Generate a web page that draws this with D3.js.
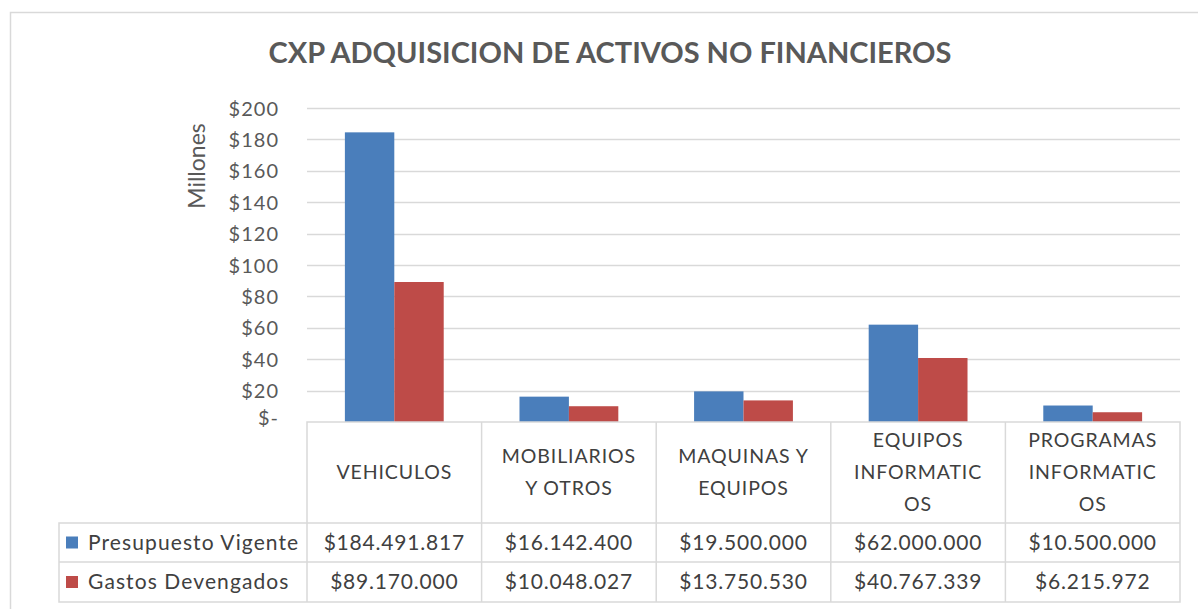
<!DOCTYPE html>
<html>
<head>
<meta charset="utf-8">
<script src="https://cdn.jsdelivr.net/npm/d3@7"></script>
<style>
  html, body { margin: 0; padding: 0; background: #fff; }
  svg { display: block; }
</style>
</head>
<body>
<svg id="chart" width="1198" height="609"></svg>
<script>
// ---- DATA ----
const title = "CXP ADQUISICION DE ACTIVOS NO FINANCIEROS";
const yAxisTitle = "Millones";
const categories = ["VEHICULOS", "MOBILIARIOS Y OTROS", "MAQUINAS Y EQUIPOS", "EQUIPOS INFORMATICOS", "PROGRAMAS INFORMATICOS"];
const categoryLines = [["VEHICULOS"], ["MOBILIARIOS", "Y OTROS"], ["MAQUINAS Y", "EQUIPOS"], ["EQUIPOS", "INFORMATIC", "OS"], ["PROGRAMAS", "INFORMATIC", "OS"]];
const seriesNames = ["Presupuesto Vigente", "Gastos Devengados"];
const presupuestoVigente = [184491817, 16142400, 19500000, 62000000, 10500000];
const gastosDevengados = [89170000, 10048027, 13750530, 40767339, 6215972];
const yTicks = [0, 20, 40, 60, 80, 100, 120, 140, 160, 180, 200];
const seriesColors = ["#4a7ebb", "#be4b48"];

// ---- LAYOUT ----
const svg = d3.select("#chart");
const plotLeft = 307, plotRight = 1180, plotTop = 108, plotBottom = 422;
const headerBottom = 523, row1Bottom = 562, row2Bottom = 602, legendLeft = 59;
const textColor = "#595959";
const gridColor = "#d9d9d9";
const font = "Lato, 'Open Sans', sans-serif";

const series = [presupuestoVigente, gastosDevengados];
const locale = d3.formatLocale({decimal: ",", thousands: ".", grouping: [3], currency: ["$", ""]});
const fmtMoney = locale.format("$,.0f");

// outer chart border
svg.append("rect").attr("x", 10.5).attr("y", 12.5).attr("width", 1200).attr("height", 620)
  .attr("fill", "#fff").attr("stroke", "#d9d9d9").attr("stroke-width", 1.5);

// title
svg.append("text").attr("x", 610).attr("y", 63).attr("text-anchor", "middle")
  .attr("font-family", font).attr("font-weight", "bold").attr("font-size", 29)
  .attr("fill", textColor).text(title);

// scales
const x = d3.scaleBand().domain(categories).range([plotLeft, plotRight]).padding(0);
const xInner = d3.scaleBand().domain(seriesNames)
  .range([x.bandwidth() * 0.217, x.bandwidth() * 0.783]).padding(0);
const y = d3.scaleLinear().domain([0, 200]).range([plotBottom, plotTop]);

// gridlines
svg.append("g").selectAll("line").data(yTicks.filter(d => d > 0)).join("line")
  .attr("x1", plotLeft).attr("x2", plotRight)
  .attr("y1", d => Math.round(y(d)) + 0.5).attr("y2", d => Math.round(y(d)) + 0.5)
  .attr("stroke", gridColor).attr("stroke-width", 1.5);

// y axis labels
const yAxis = d3.axisLeft(y).tickValues(yTicks).tickSize(0).tickPadding(0)
  .tickFormat(d => d === 0 ? "$-" : "$" + d);
const gy = svg.append("g").attr("transform", `translate(279,0)`).call(yAxis);
gy.select(".domain").remove();
gy.selectAll("text").attr("font-family", font).attr("font-size", 20).attr("fill", textColor)
  .attr("letter-spacing", 1).attr("dy", "0.35em");
gy.selectAll(".tick").filter(d => d === 0).select("text").attr("dy", "0.1em");

// y axis title
svg.append("text").attr("transform", "translate(205,166) rotate(-90)").attr("text-anchor", "middle")
  .attr("font-family", font).attr("font-size", 23).attr("fill", textColor).text(yAxisTitle);

// bars
const groups = svg.append("g").selectAll("g").data(categories).join("g")
  .attr("transform", d => `translate(${x(d)},0)`);
groups.selectAll("rect").data((d, i) => series.map((s, j) => ({name: seriesNames[j], v: s[i] / 1e6, j})))
  .join("rect")
  .attr("x", d => xInner(d.name)).attr("width", xInner.bandwidth())
  .attr("y", d => y(d.v)).attr("height", d => y(0) - y(d.v))
  .attr("fill", d => seriesColors[d.j]);

// data table
const tbl = svg.append("g").attr("fill", "none").attr("stroke", gridColor).attr("stroke-width", 1.5);
tbl.append("path").attr("d",
  `M${plotLeft},${row2Bottom} V${plotBottom} H${plotRight} V${row2Bottom} H${legendLeft} V${headerBottom} H${plotRight}` +
  ` M${legendLeft},${row1Bottom} H${plotRight}`);
categories.forEach((c, i) => {
  if (i > 0) tbl.append("line").attr("x1", x(c)).attr("x2", x(c)).attr("y1", plotBottom).attr("y2", row2Bottom);
});

// header labels
const lineH = 32;
const hdr = svg.append("g").selectAll("text").data(categories).join("text")
  .attr("text-anchor", "middle").attr("font-family", font).attr("font-size", 19.5)
  .attr("letter-spacing", 0.9).attr("fill", "#404040");
hdr.each(function(d, i) {
  const lines = categoryLines[i];
  const cx = x(d) + x.bandwidth() / 2;
  const cy = (plotBottom + headerBottom) / 2 - (lines.length - 1) * lineH / 2;
  d3.select(this).selectAll("tspan").data(lines).join("tspan")
    .attr("x", cx).attr("y", (l, k) => cy + k * lineH).attr("dy", "0.35em").text(l => l);
});

// rows
const rowMid = [(headerBottom + row1Bottom) / 2, (row1Bottom + row2Bottom) / 2];
series.forEach((s, j) => {
  svg.append("rect").attr("x", 66).attr("y", rowMid[j] - 6).attr("width", 12).attr("height", 12)
    .attr("fill", seriesColors[j]);
  svg.append("text").attr("x", 88).attr("y", rowMid[j]).attr("dy", "0.35em")
    .attr("font-family", font).attr("font-size", 21).attr("letter-spacing", 1.1)
    .attr("fill", "#404040").text(seriesNames[j]);
  svg.append("g").selectAll("text").data(categories).join("text")
    .attr("x", d => x(d) + x.bandwidth() / 2).attr("y", rowMid[j]).attr("dy", "0.35em")
    .attr("text-anchor", "middle").attr("font-family", font).attr("font-size", 21)
    .attr("letter-spacing", 0.8).attr("fill", "#404040")
    .text((d, i) => fmtMoney(s[i]));
});
</script>
</body>
</html>
